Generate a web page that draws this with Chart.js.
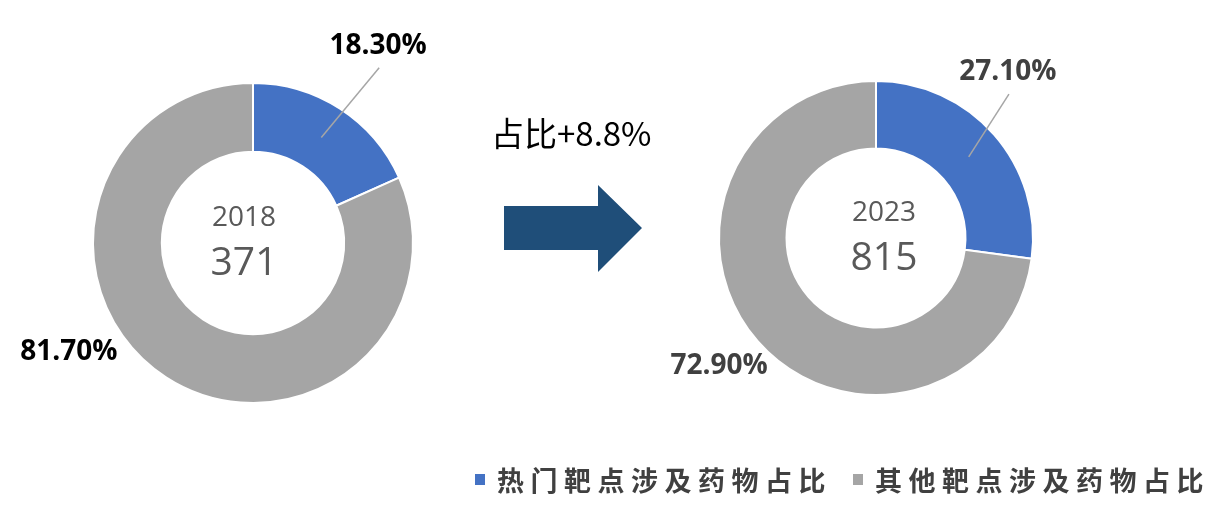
<!DOCTYPE html>
<html>
<head>
<meta charset="utf-8">
<script src="https://cdn.jsdelivr.net/npm/chart.js@4/dist/chart.umd.min.js"></script>
<style>
  html, body { margin: 0; padding: 0; background: #fff; }
  #wrap { position: relative; width: 1215px; height: 506px; overflow: hidden; }
  canvas { position: absolute; left: 0; top: 0; }
  #change { position: absolute; left: 491px; top: 108px; font: 33px "Noto Sans CJK SC", sans-serif; color: #000; white-space: nowrap; }
  #arrow { position: absolute; left: 504px; top: 185px; width: 138px; height: 87px; background: #1F4E79;
    clip-path: polygon(0 21px, 94px 21px, 94px 0, 138px 43px, 94px 87px, 94px 65px, 0 65px); }
  #legend { position: absolute; left: 475px; top: 459px; height: 40px; display: flex; align-items: center; white-space: nowrap;
    font: 600 27px "Noto Sans CJK SC", sans-serif; color: #404040; letter-spacing: 6.5px; }
  #legend .item { display: flex; align-items: center; margin-right: 21px; }
  #legend .box { width: 10px; height: 11px; margin-right: 12px; }
</style>
</head>
<body>
<div id="wrap">
  <canvas id="chart2018" width="1215" height="506"></canvas>
  <canvas id="chart2023" width="1215" height="506"></canvas>
  <div id="change"></div>
  <div id="arrow"></div>
  <div id="legend"></div>
</div>
<script>
// data
const categories = ["热门靶点涉及药物占比", "其他靶点涉及药物占比"];
const years = ["2018", "2023"];
const totals = [371, 815];
const share2018 = [18.3, 81.7];
const share2023 = [27.1, 72.9];
const changeText = "占比+8.8%";
const colors = ["#4472C4", "#A5A5A5"];

document.getElementById("change").innerText = changeText;

// legend built from the categories
const legendEl = document.getElementById("legend");
categories.forEach((name, i) => {
  const item = document.createElement("div");
  item.className = "item";
  const box = document.createElement("div");
  box.className = "box";
  box.style.background = colors[i];
  const txt = document.createElement("span");
  txt.innerText = name;
  item.appendChild(box);
  item.appendChild(txt);
  legendEl.appendChild(item);
});

// center text + percentage labels with leader line
const donutText = {
  id: "donutText",
  afterDraw(chart, args, opts) {
    const ctx = chart.ctx;
    const arcs = chart.getDatasetMeta(0).data;
    const cx = arcs[0].x, cy = arcs[0].y;
    const R = arcs[0].outerRadius, r = arcs[0].innerRadius;

    ctx.save();
    ctx.textAlign = "center";
    ctx.textBaseline = "middle";
    ctx.fillStyle = "#595959";
    ctx.font = "28px 'Open Sans'";
    ctx.fillText(opts.year, cx + opts.shift, cy - 25);
    ctx.font = "39px 'Open Sans'";
    ctx.fillText(String(opts.total), cx + opts.shift, cy + 21);

    const values = chart.data.datasets[0].data;
    arcs.forEach((arc, i) => {
      const spot = opts.spots[i];
      const a = spot[0] * Math.PI / 180;
      const lx = cx + Math.sin(a) * R * spot[1];
      const ly = cy - Math.cos(a) * R * spot[1];
      if (spot[2]) {
        const mid = (arc.startAngle + arc.endAngle) / 2;
        const mr = (R + r) / 2;
        ctx.strokeStyle = "#A6A6A6";
        ctx.lineWidth = 1.5;
        ctx.beginPath();
        ctx.moveTo(cx + Math.cos(mid) * mr, cy + Math.sin(mid) * mr);
        ctx.lineTo(lx + 1, ly + 22);
        ctx.stroke();
      }
      ctx.fillStyle = opts.labelColor;
      ctx.font = "bold 28px 'Open Sans'";
      ctx.fillText(values[i].toFixed(2) + "%", lx, ly);
    });
    ctx.restore();
  }
};

function makeDonut(id, values, year, total, padding, spots, labelColor, shift) {
  return new Chart(document.getElementById(id), {
    type: "doughnut",
    data: {
      labels: categories,
      datasets: [{
        data: values,
        backgroundColor: colors,
        borderColor: "#ffffff",
        borderWidth: 2
      }]
    },
    options: {
      responsive: false,
      animation: false,
      cutout: "57%",
      layout: { padding: padding },
      plugins: {
        legend: { display: false },
        tooltip: { enabled: false },
        donutText: { year: year, total: total, spots: spots, labelColor: labelColor, shift: shift }
      }
    },
    plugins: [donutText]
  });
}

makeDonut("chart2018", share2018, years[0], totals[0],
  { left: 92, right: 801, top: 82, bottom: 102 },
  [[32.4, 1.46, true], [239.4, 1.337, false]], "#000000", -9);

makeDonut("chart2023", share2023, years[1], totals[1],
  { left: 718, right: 181, top: 80, bottom: 110 },
  [[38.5, 1.35, true], [230.8, 1.29, false]], "#404040", 8);
</script>
</body>
</html>
